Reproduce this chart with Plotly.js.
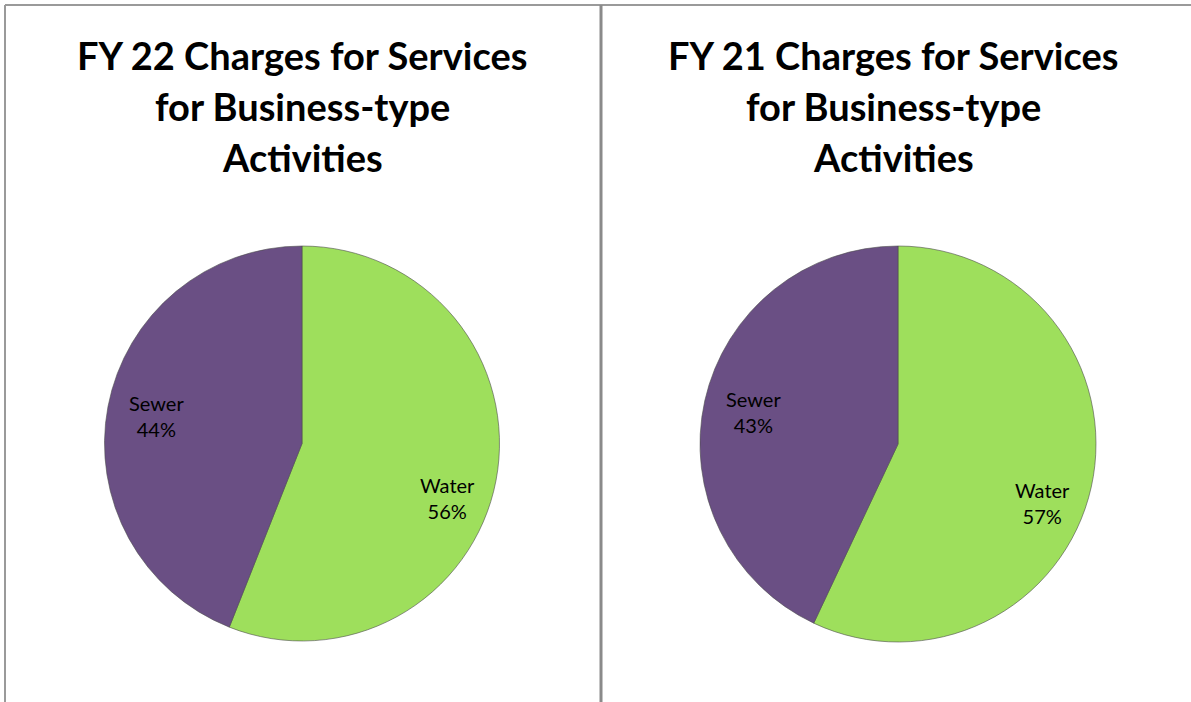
<!DOCTYPE html>
<html>
<head>
<meta charset="utf-8">
<script src="https://cdn.plot.ly/plotly-3.0.1.min.js"></script>
<style>html,body{margin:0;padding:0;background:#fff;}#chart{width:1191px;height:702px;}</style>
</head>
<body>
<div id="chart"></div>
<script>
var categories = ["Water", "Sewer"];
var fy22Values = [56, 44];
var fy21Values = [57, 43];
var titleLines22 = ["FY 22 Charges for Services", "for Business-type", "Activities"];
var titleLines21 = ["FY 21 Charges for Services", "for Business-type", "Activities"];
var sliceColors = ["#9EDF5C", "#6A4F84"];

var W = 1191, H = 702;
var FONT = "Lato, 'Open Sans', sans-serif";
function px(x){ return x / W; }
function py(y){ return 1 - y / H; }

// label placement style (Excel "best fit" look): radius fraction and vertical nudge per slice
var labelRadius = 0.75;
var labelNudge = [27, 0];

var pies = [
  {values: fy22Values, box: [104, 246, 500, 641]},
  {values: fy21Values, box: [699, 246, 1097, 642]}
];

var data = [];
var annotations = [];

pies.forEach(function(p){
  var b = p.box;
  data.push({
    type: "pie",
    labels: categories,
    values: p.values,
    sort: false,
    direction: "clockwise",
    rotation: 0,
    textinfo: "none",
    marker: {colors: sliceColors, line: {color: "#4d4d4d", width: 0.6}},
    domain: {x: [px(b[0]), px(b[2])], y: [py(b[3]), py(b[1])]},
    hoverinfo: "label+percent",
    showlegend: false
  });
  // data labels placed from the slice angles
  var cx = (b[0] + b[2]) / 2, cy = (b[1] + b[3]) / 2;
  var R = Math.min(b[2] - b[0], b[3] - b[1]) / 2;
  var total = p.values.reduce(function(a, v){ return a + v; }, 0);
  var acc = 0;
  p.values.forEach(function(v, i){
    var mid = (acc + v / 2) / total * 2 * Math.PI;
    acc += v;
    var lx = cx + labelRadius * R * Math.sin(mid);
    var ly = cy - labelRadius * R * Math.cos(mid) + labelNudge[i];
    annotations.push({
      text: categories[i] + "<br>" + Math.round(v / total * 100) + "%",
      x: px(lx), y: py(ly), xref: "paper", yref: "paper",
      xanchor: "center", yanchor: "middle", showarrow: false, align: "center",
      font: {family: FONT, size: 20, color: "#000"}
    });
  });
});

var lineY = [55, 106, 157];
function addTitle(lines, cx){
  lines.forEach(function(t, i){
    annotations.push({
      text: "<b>" + t + "</b>",
      x: px(cx), y: py(lineY[i]), xref: "paper", yref: "paper",
      xanchor: "center", yanchor: "middle", showarrow: false,
      font: {family: FONT, size: 38, color: "#000"}
    });
  });
}
addTitle(titleLines22, 302);
addTitle(titleLines21, 893);

var shapes = [
  {type: "line", xref: "paper", yref: "paper", x0: px(5), x1: 1, y0: py(5), y1: py(5), line: {color: "#9a9a9a", width: 2}},
  {type: "line", xref: "paper", yref: "paper", x0: px(5), x1: px(5), y0: py(5), y1: 0, line: {color: "#9a9a9a", width: 2}},
  {type: "line", xref: "paper", yref: "paper", x0: px(601), x1: px(601), y0: py(5), y1: 0, line: {color: "#8a8a8a", width: 3}}
];

var layout = {
  width: W, height: H,
  margin: {l: 0, r: 0, t: 0, b: 0},
  paper_bgcolor: "#fff",
  plot_bgcolor: "#fff",
  annotations: annotations,
  shapes: shapes,
  showlegend: false
};

Plotly.newPlot("chart", data, layout, {displayModeBar: false, staticPlot: true});
</script>
</body>
</html>
